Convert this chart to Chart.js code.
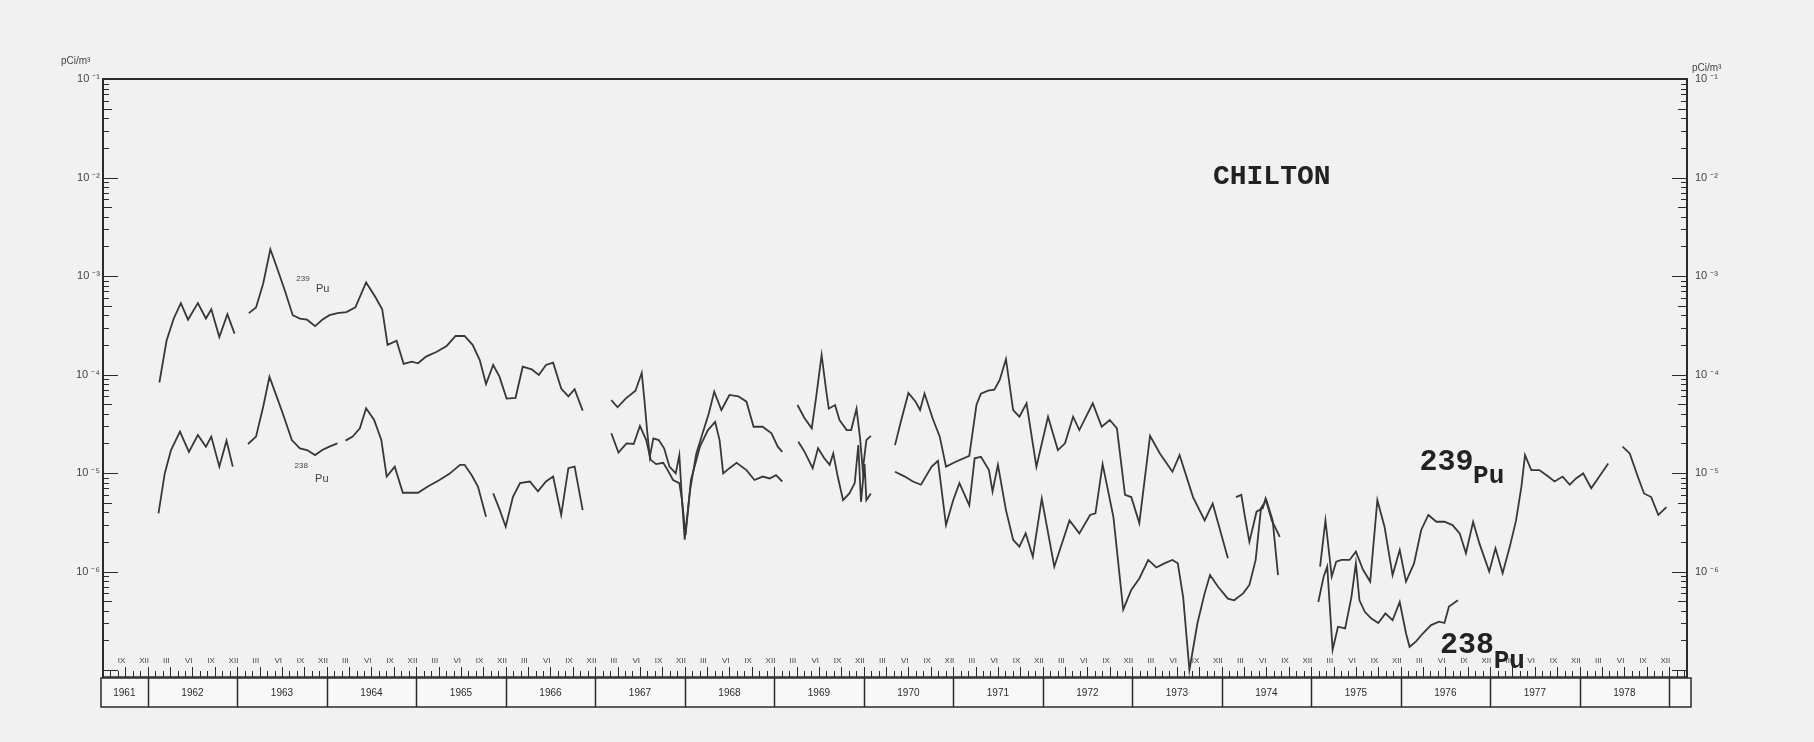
<!DOCTYPE html>
<html>
<head>
<meta charset="utf-8">
<script src="https://cdn.jsdelivr.net/npm/chart.js@4.4.1/dist/chart.umd.min.js"></script>
<style>
  html, body { margin: 0; padding: 0; background: #f1f1f1; }
  #wrap { width: 1814px; height: 742px; }
  canvas { display: block; }
</style>
</head>
<body>
<div id="wrap"><canvas id="chart" width="1814" height="742"></canvas></div>
<script>
// Monthly airborne plutonium concentration at Chilton, pCi/m³ (null = no sampling)
const yearLabels = ['1961','1962','1963','1964','1965','1966','1967','1968','1969',
                    '1970','1971','1972','1973','1974','1975','1976','1977','1978'];
const quarterMonthLabels = { 3: 'III', 6: 'VI', 9: 'IX', 12: 'XII' };
const decadeTicks = [1e-1, 1e-2, 1e-3, 1e-4, 1e-5, 1e-6];

const pu239Years = [
  1962.13,1962.21,1962.29,1962.37,1962.45,1962.56,1962.65,1962.71,1962.80,1962.89,1962.97,null,
  1963.13,1963.21,1963.29,1963.37,1963.44,1963.53,1963.62,1963.70,1963.78,1963.87,1963.95,
  1964.03,1964.12,1964.22,1964.32,1964.44,1964.54,1964.62,1964.68,1964.78,1964.86,1964.95,
  1965.02,1965.11,1965.23,1965.34,1965.44,1965.54,1965.63,1965.71,1965.78,1965.86,1965.93,
  1966.01,1966.11,1966.19,1966.29,1966.37,1966.45,1966.53,1966.62,1966.70,1966.77,1966.86,null,
  1967.18,1967.25,1967.34,1967.45,1967.52,1967.55,1967.58,1967.61,1967.65,1967.71,1967.77,
  1967.83,1967.90,1967.94,1967.97,1968.00,1968.06,1968.13,1968.20,1968.27,1968.33,1968.41,
  1968.50,1968.60,1968.69,1968.77,1968.87,1968.97,1969.04,1969.09,null,
  1969.26,1969.34,1969.42,1969.47,1969.53,1969.58,1969.61,1969.68,1969.73,1969.81,1969.86,
  1969.92,1969.96,1969.99,1970.03,1970.08,null,
  1970.35,1970.42,1970.50,1970.58,1970.63,1970.68,1970.77,1970.85,1970.92,1971.03,1971.18,
  1971.26,1971.31,1971.39,1971.46,1971.52,1971.59,1971.67,1971.74,1971.82,1971.93,1972.06,
  1972.17,1972.25,1972.34,1972.41,1972.56,1972.66,1972.75,1972.83,1972.92,1972.99,1973.08,
  1973.20,1973.31,1973.45,1973.53,1973.68,1973.81,1973.90,1974.07,null,
  1974.16,1974.22,1974.26,1974.31,1974.39,1974.46,1974.49,1974.56,1974.65,null,
  1975.10,1975.16,1975.23,1975.28,1975.34,1975.43,1975.50,1975.58,1975.66,1975.74,1975.82,
  1975.91,1975.99,1976.06,1976.15,1976.23,1976.31,1976.40,1976.49,1976.58,1976.66,1976.73,
  1976.81,1976.88,1976.99,1977.06,1977.14,1977.22,1977.29,1977.35,1977.39,1977.46,1977.55,
  1977.65,1977.72,1977.81,1977.89,1977.96,1978.04,1978.13,1978.22,1978.32,null,
  1978.48,1978.56,1978.65,1978.72,1978.80,1978.88,1978.97
];
const pu239Values = [
  8.3e-5,2.2e-4,3.7e-4,5.3e-4,3.6e-4,5.3e-4,3.7e-4,4.6e-4,2.4e-4,4.1e-4,2.6e-4,null,
  4.2e-4,4.8e-4,8.4e-4,1.87e-3,1.24e-3,7.2e-4,4.0e-4,3.7e-4,3.6e-4,3.1e-4,3.6e-4,
  4.0e-4,4.2e-4,4.3e-4,4.8e-4,8.6e-4,6.2e-4,4.6e-4,2.0e-4,2.2e-4,1.28e-4,1.35e-4,
  1.30e-4,1.52e-4,1.70e-4,1.95e-4,2.46e-4,2.46e-4,2.0e-4,1.40e-4,8.0e-5,1.25e-4,9.5e-5,
  5.7e-5,5.8e-5,1.20e-4,1.13e-4,9.9e-5,1.25e-4,1.32e-4,7.2e-5,6.0e-5,7.1e-5,4.3e-5,null,
  5.5e-5,4.65e-5,5.7e-5,6.85e-5,1.04e-4,5.5e-5,2.7e-5,1.46e-5,2.25e-5,2.16e-5,1.78e-5,
  1.16e-5,9.9e-6,1.52e-5,5.3e-6,2.1e-6,6.7e-6,1.58e-5,2.53e-5,4.04e-5,6.7e-5,4.36e-5,
  6.2e-5,6.0e-5,5.3e-5,2.95e-5,2.95e-5,2.53e-5,1.85e-5,1.64e-5,null,
  4.9e-5,3.6e-5,2.84e-5,6.0e-5,1.58e-4,7.0e-5,4.5e-5,4.9e-5,3.45e-5,2.73e-5,2.73e-5,
  4.5e-5,2.25e-5,1.07e-5,2.16e-5,2.38e-5,null,
  1.92e-5,3.45e-5,6.5e-5,5.3e-5,4.36e-5,6.4e-5,3.6e-5,2.34e-5,1.16e-5,1.3e-5,1.49e-5,
  4.9e-5,6.4e-5,6.85e-5,7.0e-5,8.8e-5,1.43e-4,4.36e-5,3.73e-5,5.1e-5,1.16e-5,3.73e-5,
  1.71e-5,2.0e-5,3.73e-5,2.73e-5,5.1e-5,2.95e-5,3.45e-5,2.84e-5,6.0e-6,5.7e-6,3.1e-6,
  2.38e-5,1.58e-5,1.03e-5,1.52e-5,5.7e-6,3.3e-6,4.9e-6,1.36e-6,null,
  5.7e-6,6.0e-6,3.6e-6,2.0e-6,4.05e-6,4.4e-6,5.5e-6,3.3e-6,2.25e-6,null,
  1.12e-6,3.3e-6,8.9e-7,1.26e-6,1.31e-6,1.31e-6,1.59e-6,1.04e-6,7.9e-7,5.3e-6,2.85e-6,
  9.2e-7,1.65e-6,7.9e-7,1.21e-6,2.64e-6,3.75e-6,3.2e-6,3.2e-6,2.96e-6,2.44e-6,1.53e-6,
  3.2e-6,1.93e-6,1.0e-6,1.72e-6,9.6e-7,1.79e-6,3.3e-6,7.3e-6,1.52e-5,1.07e-5,1.07e-5,
  9.2e-6,8.2e-6,9.2e-6,7.6e-6,8.8e-6,9.9e-6,7.0e-6,9.2e-6,1.25e-5,null,
  1.85e-5,1.58e-5,9.2e-6,6.2e-6,5.7e-6,3.75e-6,4.5e-6
];

const pu238Years = [
  1962.12,1962.19,1962.26,1962.36,1962.46,1962.56,1962.65,1962.71,1962.80,1962.88,1962.95,null,
  1963.12,1963.21,1963.29,1963.36,1963.44,1963.51,1963.61,1963.70,1963.78,1963.87,1963.95,
  1964.03,1964.12,null,
  1964.21,1964.29,1964.37,1964.44,1964.53,1964.61,1964.67,1964.76,1964.85,1965.02,1965.13,
  1965.26,1965.37,1965.49,1965.54,1965.62,1965.69,1965.78,null,
  1965.86,1965.93,1966.00,1966.08,1966.16,1966.27,1966.36,1966.45,1966.53,1966.62,1966.70,
  1966.77,1966.86,null,
  1967.18,1967.26,1967.35,1967.43,1967.50,1967.57,1967.62,1967.68,1967.76,1967.81,1967.87,
  1967.94,1967.97,1968.01,1968.07,1968.17,1968.26,1968.34,1968.39,1968.43,1968.50,1968.58,
  1968.69,1968.78,1968.87,1968.95,1969.02,1969.09,null,
  1969.27,1969.34,1969.43,1969.49,1969.56,1969.62,1969.66,1969.71,1969.77,1969.84,1969.90,
  1969.94,1969.97,1970.01,1970.03,1970.08,null,
  1970.35,1970.46,1970.55,1970.64,1970.76,1970.83,1970.92,1971.00,1971.07,1971.18,1971.24,
  1971.31,1971.40,1971.44,1971.50,1971.59,1971.67,1971.74,1971.81,1971.89,1971.99,1972.13,
  1972.30,1972.41,1972.53,1972.59,1972.67,1972.79,1972.90,1972.99,1973.08,1973.18,1973.27,
  1973.36,1973.45,1973.51,1973.57,1973.64,1973.73,1973.81,1973.87,1973.96,1974.07,1974.14,
  1974.24,1974.31,1974.38,1974.44,1974.50,1974.57,1974.63,null,
  1975.08,1975.14,1975.18,1975.24,1975.30,1975.38,1975.45,1975.50,1975.54,1975.60,1975.67,
  1975.75,1975.83,1975.91,1975.99,1976.06,1976.10,1976.17,1976.25,1976.34,1976.43,1976.49,
  1976.54,1976.64
];
const pu238Values = [
  3.9e-6,9.9e-6,1.71e-5,2.63e-5,1.64e-5,2.43e-5,1.85e-5,2.34e-5,1.16e-5,2.13e-5,1.16e-5,null,
  1.97e-5,2.34e-5,4.7e-5,9.5e-5,6.0e-5,4.0e-5,2.16e-5,1.78e-5,1.71e-5,1.52e-5,1.71e-5,
  1.85e-5,2.0e-5,null,
  2.13e-5,2.34e-5,2.84e-5,4.54e-5,3.45e-5,2.16e-5,9.2e-6,1.16e-5,6.3e-6,6.3e-6,7.3e-6,
  8.5e-6,9.8e-6,1.21e-5,1.21e-5,9.5e-6,7.3e-6,3.6e-6,null,
  6.2e-6,4.3e-6,2.85e-6,5.7e-6,7.9e-6,8.2e-6,6.5e-6,8.2e-6,9.2e-6,3.75e-6,1.12e-5,
  1.16e-5,4.2e-6,null,
  2.53e-5,1.61e-5,2.0e-5,1.97e-5,3.0e-5,2.16e-5,1.36e-5,1.23e-5,1.27e-5,1.07e-5,8.5e-6,
  7.9e-6,5.3e-6,2.35e-6,8.5e-6,1.85e-5,2.73e-5,3.3e-5,2.16e-5,9.9e-6,1.12e-5,1.27e-5,
  1.07e-5,8.5e-6,9.2e-6,8.8e-6,9.5e-6,8.2e-6,null,
  2.08e-5,1.64e-5,1.12e-5,1.78e-5,1.41e-5,1.21e-5,1.58e-5,9.2e-6,5.3e-6,6.2e-6,7.9e-6,
  1.92e-5,5.1e-6,1.23e-5,5.3e-6,6.2e-6,null,
  1.03e-5,9.2e-6,8.2e-6,7.6e-6,1.16e-5,1.33e-5,2.96e-6,5.3e-6,7.9e-6,4.7e-6,1.41e-5,
  1.46e-5,1.07e-5,6.5e-6,1.21e-5,4.2e-6,2.1e-6,1.79e-6,2.44e-6,1.41e-6,5.5e-6,1.12e-6,
  3.3e-6,2.44e-6,3.75e-6,3.9e-6,1.23e-5,3.6e-6,4.1e-7,6.5e-7,8.5e-7,1.31e-6,1.1e-6,
  1.21e-6,1.31e-6,1.21e-6,5.5e-7,1.0e-7,3.0e-7,6.0e-7,9.2e-7,7.0e-7,5.3e-7,5.1e-7,
  6.0e-7,7.3e-7,1.31e-6,4.4e-6,5.3e-6,3.3e-6,9.2e-7,null,
  4.9e-7,8.9e-7,1.12e-6,1.6e-7,2.75e-7,2.65e-7,5.5e-7,1.21e-6,5.1e-7,3.9e-7,3.35e-7,
  3.0e-7,3.75e-7,3.2e-7,4.9e-7,2.36e-7,1.72e-7,1.94e-7,2.36e-7,2.86e-7,3.1e-7,3.0e-7,
  4.4e-7,5.1e-7
];

// Pair the year and value arrays into points; a null marks a break in the record
function toPoints(years, values) {
  return years.map((yr, i) => ({
    x: yr !== null ? yr : years[i - 1] + 0.01,
    y: values[i]
  }));
}

const SUP = { '-': '⁻', '0': '⁰', '1': '¹', '2': '²', '3': '³', '4': '⁴', '5': '⁵', '6': '⁶', '7': '⁷', '8': '⁸', '9': '⁹' };
function powerLabel(v) {
  const e = String(Math.round(Math.log10(v)));
  return '10 ' + e.split('').map(ch => SUP[ch]).join('');
}

const INK = '#2b2b2b';
const LINE = '#383838';
const Y_MIN = Math.pow(10, -7.071);
const Y_MAX = 0.1;

const logAxis = (position, width) => ({
  type: 'logarithmic',
  position,
  min: Y_MIN,
  max: Y_MAX,
  afterBuildTicks: s => { s.ticks = decadeTicks.map(v => ({ value: v })); },
  afterFit: s => { s.width = width; },
  grid: { display: false, drawTicks: false },
  border: { display: true, color: INK, width: 2 },
  ticks: {
    callback: v => powerLabel(v),
    font: { family: 'Liberation Sans', size: 11 },
    color: '#444',
    padding: position === 'left' ? 3 : 8,
    autoSkip: false
  }
});

// Frame, log minor ticks, month ticks, year boxes and annotations
const decorations = {
  id: 'decorations',
  afterDraw(chart) {
    const { ctx, chartArea: a } = chart;
    const x = chart.scales.x, y = chart.scales.y;
    ctx.save();
    ctx.strokeStyle = INK;
    ctx.fillStyle = INK;

    ctx.lineWidth = 2;
    ctx.beginPath();
    ctx.moveTo(a.left, a.top); ctx.lineTo(a.right, a.top);
    ctx.stroke();

    // minor ticks on the inner side of both log axes
    ctx.lineWidth = 1;
    for (let e = -7; e <= -1; e++) {
      for (let k = 1; k <= 9; k++) {
        const v = k * Math.pow(10, e);
        if (v < Y_MIN || v > Y_MAX * 1.0001) continue;
        const py = Math.round(y.getPixelForValue(v)) + 0.5;
        const len = k === 1 ? 15 : (k === 5 ? 9 : 6);
        ctx.beginPath();
        ctx.moveTo(a.left, py); ctx.lineTo(a.left + len, py);
        ctx.moveTo(a.right, py); ctx.lineTo(a.right - len, py);
        ctx.stroke();
      }
    }

    // monthly ticks along the time axis
    ctx.lineWidth = 1;
    for (let yr = 1961; yr <= 1979; yr++) {
      for (let m = 0; m < 12; m++) {
        const t = yr + m / 12;
        if (t < x.min || t > x.max) continue;
        const px = Math.round(x.getPixelForValue(t)) + 0.5;
        const len = m % 3 === 0 ? 10 : 6;
        ctx.beginPath();
        ctx.moveTo(px, a.bottom); ctx.lineTo(px, a.bottom - len);
        ctx.stroke();
      }
    }

    // quarter-month numerals
    ctx.font = '8px "Liberation Sans"';
    ctx.fillStyle = '#444';
    ctx.textAlign = 'center';
    ctx.textBaseline = 'alphabetic';
    for (let yr = 1961; yr <= 1979; yr++) {
      for (const m of [3, 6, 9, 12]) {
        const t = yr + (m - 0.5) / 12;
        if (t < x.min || t > x.max) continue;
        ctx.fillText(quarterMonthLabels[m], x.getPixelForValue(t), a.bottom - 14);
      }
    }

    // year boxes under the axis
    const bTop = a.bottom + 1, bBot = a.bottom + 30;
    const bLeft = a.left - 2, bRight = a.right + 4;
    ctx.fillStyle = '#f8f8f8';
    ctx.fillRect(bLeft, bTop, bRight - bLeft, bBot - bTop);
    ctx.strokeStyle = INK;
    ctx.lineWidth = 1.5;
    ctx.beginPath();
    ctx.moveTo(a.left, a.bottom); ctx.lineTo(a.right, a.bottom);
    ctx.stroke();
    ctx.strokeRect(bLeft, bTop, bRight - bLeft, bBot - bTop);
    const bounds = [bLeft];
    for (let yr = 1962; yr <= 1979; yr++) bounds.push(x.getPixelForValue(yr));
    bounds.push(bRight);
    ctx.beginPath();
    for (let i = 1; i < bounds.length - 1; i++) {
      const px = Math.round(bounds[i]) + 0.5;
      ctx.moveTo(px, bTop); ctx.lineTo(px, bBot);
    }
    ctx.stroke();
    ctx.fillStyle = INK;
    ctx.font = '10px "Liberation Sans"';
    ctx.textBaseline = 'middle';
    yearLabels.forEach((lab, i) => {
      ctx.fillText(lab, (bounds[i] + bounds[i + 1]) / 2, (bTop + bBot) / 2 + 1);
    });

    // unit captions
    ctx.textBaseline = 'alphabetic';
    ctx.font = '10px "Liberation Sans"';
    ctx.fillStyle = '#444';
    ctx.textAlign = 'left';
    ctx.fillText('pCi/m³', a.left - 42, a.top - 15);
    ctx.fillText('pCi/m³', a.right + 5, a.top - 8);

    // station name and series labels
    const at = (yr, v) => [x.getPixelForValue(yr), y.getPixelForValue(v)];
    ctx.fillStyle = '#222';
    ctx.font = 'bold 28px "Liberation Mono"';
    ctx.textAlign = 'center';
    let p = at(1974.56, Math.pow(10, -2.066));
    ctx.fillText('CHILTON', p[0], p[1]);

    ctx.textAlign = 'left';
    ctx.font = 'bold 30px "Liberation Mono"';
    p = at(1976.21, Math.pow(10, -4.97));
    ctx.fillText('239', p[0], p[1]);
    p = at(1976.44, Math.pow(10, -6.83));
    ctx.fillText('238', p[0], p[1]);
    ctx.font = 'bold 26px "Liberation Mono"';
    p = at(1976.81, Math.pow(10, -5.10));
    ctx.fillText('Pu', p[0], p[1]);
    p = at(1977.04, Math.pow(10, -6.98));
    ctx.fillText('Pu', p[0], p[1]);

    ctx.fillStyle = '#444';
    ctx.font = '8px "Liberation Sans"';
    p = at(1963.66, Math.pow(10, -3.05));
    ctx.fillText('239', p[0], p[1]);
    p = at(1963.64, Math.pow(10, -4.95));
    ctx.fillText('238', p[0], p[1]);
    ctx.font = '11px "Liberation Sans"';
    p = at(1963.88, Math.pow(10, -3.16));
    ctx.fillText('Pu', p[0], p[1]);
    p = at(1963.87, Math.pow(10, -5.09));
    ctx.fillText('Pu', p[0], p[1]);

    ctx.restore();
  }
};

const seriesStyle = {
  borderColor: LINE,
  borderWidth: 1.8,
  pointRadius: 0,
  pointHoverRadius: 0,
  tension: 0,
  spanGaps: false,
  fill: false,
  yAxisID: 'y'
};

new Chart(document.getElementById('chart'), {
  type: 'line',
  data: {
    datasets: [
      Object.assign({ label: '239Pu', data: toPoints(pu239Years, pu239Values) }, seriesStyle),
      Object.assign({ label: '238Pu', data: toPoints(pu238Years, pu238Values) }, seriesStyle)
    ]
  },
  options: {
    responsive: false,
    devicePixelRatio: 1,
    animation: false,
    parsing: true,
    layout: { padding: { top: 79, bottom: 65, left: 0, right: 0 } },
    plugins: { legend: { display: false }, tooltip: { enabled: false } },
    scales: {
      x: { type: 'linear', min: 1961.5, max: 1979.2, display: false },
      y: logAxis('left', 103),
      y2: logAxis('right', 127)
    }
  },
  plugins: [decorations]
});
</script>
</body>
</html>
